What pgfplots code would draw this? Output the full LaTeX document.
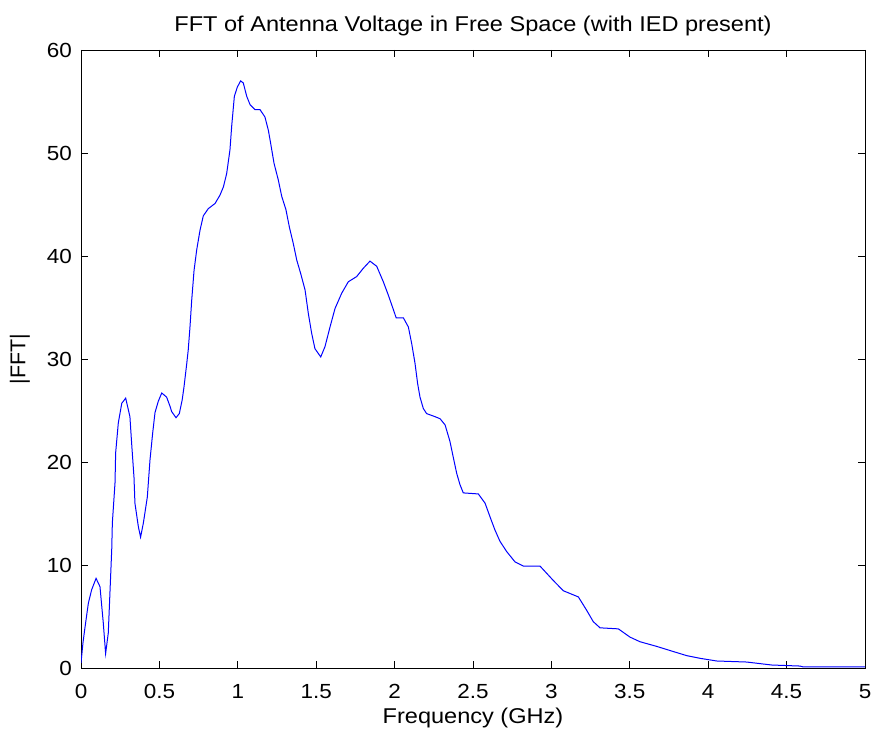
\documentclass[border=0pt]{standalone}
\usepackage{fontspec}
\setmainfont{Liberation Sans}[FakeStretch=1.1]
\newfontfamily\ylfont{Liberation Sans}
\usepackage{pgfplots}
\pgfplotsset{compat=1.18}
\begin{document}
\begin{tikzpicture}
\useasboundingbox (0,0) rectangle (875bp,736bp);
\begin{axis}[
  at={(81bp,68bp)}, anchor=south west,
  scale only axis, width=784bp, height=618bp,
  xmin=0, xmax=5, ymin=0, ymax=60,
  xtick={0,0.5,...,5}, ytick={0,10,...,60},
  xticklabels={0,0.5,1,1.5,2,2.5,3,3.5,4,4.5,5},
  /pgf/number format/assume math mode=true,
  tick align=inside, major tick length=7bp,
  xtick pos=both, ytick pos=both,
  axis line style={line width=0.9bp},
  tick style={line width=0.9bp, black},
  tick label style={font=\fontsize{20.5}{24}\selectfont},
  label style={font=\fontsize{21.5}{25}\selectfont},
  title style={font=\fontsize{21.5}{25}\selectfont},
  xticklabel style={inner sep=0pt, anchor=base, yshift=-30bp},
  yticklabel style={inner sep=0pt, anchor=east, xshift=-9bp},
  title={FFT of Antenna Voltage in Free Space (with IED present)},
  title style={at={(axis description cs:0.5,1.021)}, anchor=base, inner sep=0pt},
  xlabel={Frequency (GHz)},
  xlabel style={at={(axis description cs:0.5,-0.089)}, anchor=base, inner sep=0pt},
  ylabel={\ylfont |FFT|},
  ylabel style={at={(axis description cs:-0.065,0.5)}, anchor=south, inner sep=0pt},
]
\addplot[color={rgb,255:red,0;green,0;blue,255}, line width=1bp] coordinates {
(0,0.5) (0.013,2.5) (0.026,4.0) (0.047,6.3) (0.068,7.6) (0.096,8.7) (0.121,7.9)
(0.142,4.4) (0.157,1.4) (0.174,3.4) (0.196,11.5) (0.200,14.1) (0.217,18.0)
(0.221,20.9) (0.238,23.8) (0.26,25.7) (0.285,26.2) (0.312,24.4) (0.323,21.8)
(0.338,18.5) (0.344,16.0) (0.366,13.7) (0.38,12.7) (0.398,14.1) (0.423,16.6)
(0.44,20.2) (0.457,22.8) (0.472,24.8) (0.493,25.9) (0.515,26.7) (0.546,26.3)
(0.568,25.4) (0.578,24.9) (0.606,24.3) (0.627,24.7) (0.645,26.0) (0.657,27.3)
(0.674,29.5) (0.684,30.9) (0.695,33.1) (0.706,35.7) (0.721,38.6) (0.738,40.6)
(0.759,42.5) (0.78,43.9) (0.812,44.6) (0.855,45.1) (0.886,45.9) (0.908,46.7)
(0.929,48.0) (0.95,50.3) (0.961,52.6) (0.978,55.5) (0.997,56.4) (1.018,57.0)
(1.035,56.8) (1.057,55.5) (1.078,54.7) (1.11,54.2) (1.142,54.2) (1.173,53.5)
(1.195,52.2) (1.21,50.9) (1.231,49.0) (1.258,47.4) (1.28,45.8) (1.307,44.5)
(1.329,42.8) (1.354,41.2) (1.376,39.6) (1.401,38.3) (1.429,36.7) (1.45,34.4)
(1.471,32.5) (1.492,31.0) (1.529,30.2) (1.556,31.2) (1.588,33.1) (1.62,34.9)
(1.663,36.4) (1.705,37.5) (1.758,38.0) (1.8,38.8) (1.843,39.5) (1.886,39.0)
(1.928,37.5) (1.96,36.2) (1.992,34.8) (2.01,34.0) (2.056,34.0) (2.088,33.1)
(2.109,31.5) (2.13,29.6) (2.147,27.6) (2.162,26.3) (2.183,25.2) (2.204,24.7)
(2.258,24.4) (2.29,24.2) (2.322,23.6) (2.353,22.0) (2.375,20.4) (2.396,18.9)
(2.417,17.8) (2.438,17.0) (2.534,16.9) (2.577,16.0) (2.608,14.7) (2.64,13.4)
(2.672,12.3) (2.715,11.3) (2.768,10.3) (2.821,9.9) (2.927,9.9) (3.012,8.5)
(3.076,7.5) (3.172,6.9) (3.225,5.6) (3.267,4.5) (3.31,3.9) (3.427,3.8)
(3.501,3.0) (3.565,2.55) (3.671,2.1) (3.777,1.6) (3.863,1.2) (3.948,0.94)
(4.054,0.68) (4.245,0.58) (4.405,0.29) (4.585,0.19) (4.607,0.1) (5.0,0.1)
};
\end{axis}
\end{tikzpicture}
\end{document}
